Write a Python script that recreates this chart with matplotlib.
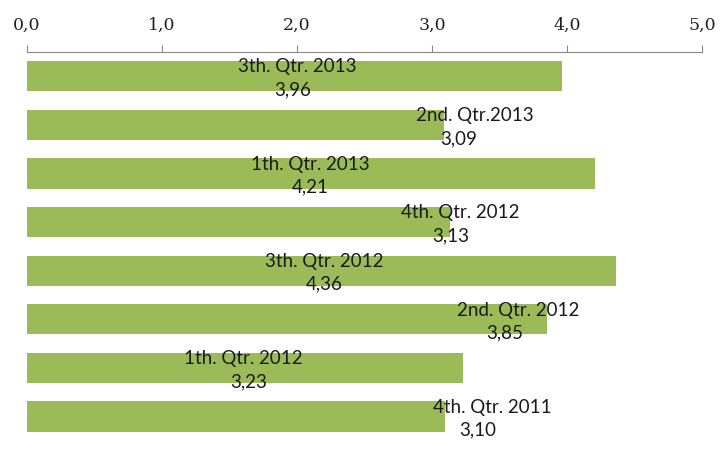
import matplotlib.pyplot as plt
from matplotlib import font_manager
import numpy as np

quarters = ['3th. Qtr. 2013', '2nd. Qtr.2013', '1th. Qtr. 2013', '4th. Qtr. 2012',
            '3th. Qtr. 2012', '2nd. Qtr. 2012', '1th. Qtr. 2012', '4th. Qtr. 2011']
values = [3.96, 3.09, 4.21, 3.13, 4.36, 3.85, 3.23, 3.10]

# hand-placed label spots (x in axis units) for name and value
name_x = [2.0, 3.32, 2.1, 3.21, 2.2, 3.64, 1.6, 3.45]
value_x = [1.97, 3.2, 2.1, 3.14, 2.2, 3.54, 1.64, 3.34]

names = {f.name for f in font_manager.fontManager.ttflist}
lab_font = 'Liberation Sans Narrow' if 'Liberation Sans Narrow' in names else 'Lato'

fig = plt.figure(figsize=(7.23, 4.56), dpi=100)
ax = fig.add_axes([0.0373, 0.031, 0.9336, 0.853])

y = np.arange(len(values))
ax.barh(y, values, height=0.62, color='#9BBB59', edgecolor='none')
ax.set_ylim(len(values) - 0.5, -0.5)
ax.set_xlim(0, 5)

for i, (q, v) in enumerate(zip(quarters, values)):
    ax.text(name_x[i], i - 0.21, q, ha='center', va='center', fontsize=13.5,
            family=lab_font, color='#1a1a1a')
    ax.text(value_x[i], i + 0.26, f'{v:.2f}'.replace('.', ','), ha='center',
            va='center', fontsize=13.5, family=lab_font, color='#1a1a1a')

ax.xaxis.tick_top()
ax.set_xticks(np.arange(0, 5.1, 1))
ax.set_xticklabels([f'{t:.1f}'.replace('.', ',') for t in np.arange(0, 5.1, 1)],
                   family='DejaVu Serif', fontsize=12.5, color='#222222')
ax.tick_params(axis='x', direction='out', length=5, color='#888888', pad=9)
ax.set_yticks([])
for s in ['left', 'right', 'bottom']:
    ax.spines[s].set_visible(False)
ax.spines['top'].set_color('#888888')

fig.savefig('out.png', dpi=100)
